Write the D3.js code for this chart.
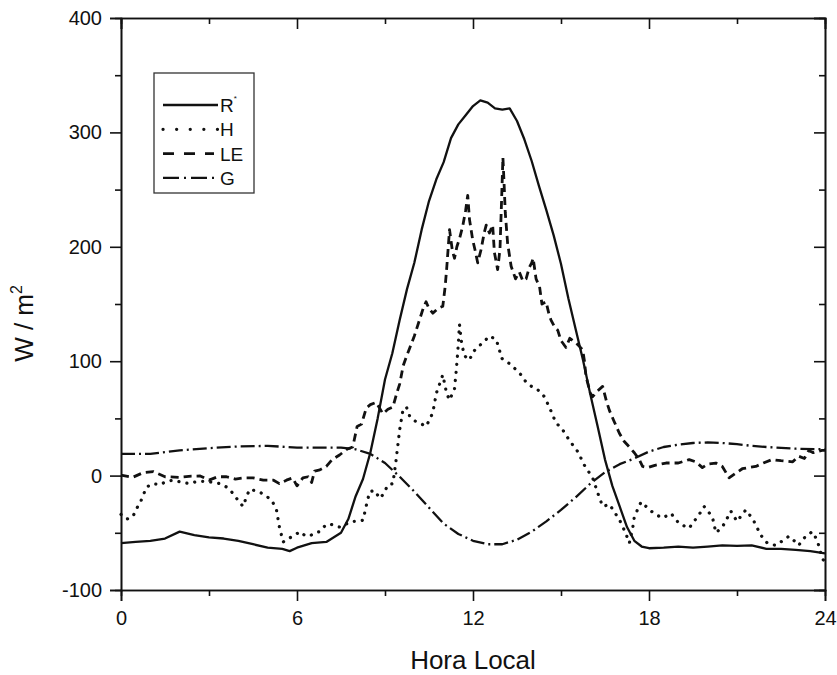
<!DOCTYPE html>
<html>
<head>
<meta charset="utf-8">
<script src="https://cdn.jsdelivr.net/npm/d3@7"></script>
<style>
  body { margin: 0; background: #fff; }
  text { font-family: Arial, "Liberation Sans", sans-serif; fill: #111; }
</style>
</head>
<body>
<script>
// hourly fluxes, W/m2
const rnHour = [0, 0.5, 1, 1.5, 2, 2.5, 3, 3.5, 4, 4.5, 5, 5.5, 5.75, 6, 6.5, 7, 7.5, 7.75, 8, 8.25, 8.5, 8.75, 9, 9.25, 9.5, 9.75, 10, 10.25, 10.5, 10.75, 11, 11.25, 11.5, 11.75, 12, 12.25, 12.5, 12.75, 13, 13.25, 13.5, 13.75, 14, 14.25, 14.5, 14.75, 15, 15.25, 15.5, 15.75, 16, 16.25, 16.5, 16.75, 17, 17.25, 17.5, 17.75, 18, 18.5, 19, 19.5, 20, 20.5, 21, 21.5, 22, 22.5, 23, 23.5, 24]
const rnVal = [-59, -58, -57, -55, -49, -52, -54, -55, -57, -60, -63, -64, -66, -63, -59, -58, -50, -38, -18, -3, 20, 50, 84, 107, 136, 163, 186, 215, 240, 259, 274, 295, 307, 315, 323, 328, 326, 321, 320, 321, 310, 294, 275, 253, 232, 210, 185, 155, 128, 101, 71, 43, 14, -9, -27, -45, -57, -62, -63.5, -63, -62, -63, -62, -61, -61.5, -61, -64, -64, -65, -66, -68]

const hHour = [0, 0.2, 0.4, 0.55, 0.65, 0.87, 1.1, 1.33, 1.55, 1.78, 2.1, 2.35, 2.6, 2.92, 3.15, 3.37, 3.6, 3.8, 4, 4.16, 4.3, 4.39, 4.7, 4.96, 5.15, 5.3, 5.4, 5.53, 5.7, 5.87, 6.1, 6.25, 6.43, 6.6, 6.77, 6.95, 7.1, 7.3, 7.46, 7.7, 7.9, 8.1, 8.25, 8.4, 8.48, 8.65, 8.82, 8.95, 9.1, 9.27, 9.38, 9.5, 9.61, 9.73, 9.84, 10, 10.18, 10.4, 10.5, 10.63, 10.75, 10.86, 10.97, 11.1, 11.2, 11.37, 11.43, 11.48, 11.54, 11.6, 11.7, 11.88, 12, 12.15, 12.33, 12.56, 12.79, 12.9, 12.96, 13.1, 13.24, 13.45, 13.64, 13.8, 13.92, 14.15, 14.3, 14.43, 14.6, 14.83, 15, 15.11, 15.28, 15.57, 15.8, 16.08, 16.25, 16.42, 16.55, 16.65, 16.85, 17, 17.2, 17.33, 17.45, 17.5, 17.73, 17.9, 18.07, 18.3, 18.47, 18.75, 19.03, 19.2, 19.37, 19.5, 19.66, 19.88, 20, 20.16, 20.28, 20.5, 20.65, 20.79, 21, 21.15, 21.3, 21.45, 21.58, 21.81, 22.03, 22.32, 22.55, 22.77, 22.95, 23.1, 23.34, 23.57, 23.7, 23.8, 23.9, 24]
const hVal = [-34, -38, -36, -28, -24, -10, -7, -8, -5, -4, -6, -7, -5, -5, -6, -7, -10, -15, -22, -27, -17, -12, -14, -18, -22, -30, -45, -58, -55, -53, -49, -52, -53, -50, -49, -44, -42, -44, -45, -42, -40, -40, -39, -22, -14, -13, -20, -16, -8, -7, 14, 40, 57, 60, 52, 48, 46, 43, 48, 55, 72, 80, 88, 72, 66, 76, 92, 108, 132, 118, 105, 101, 108, 112, 116, 122, 119, 110, 103, 100, 98, 93, 88, 82, 79, 76, 73, 69, 60, 46, 42, 38, 31, 21, 9, -2, -15, -27, -26, -25, -33, -39, -50, -59, -45, -36, -23, -27, -31, -35, -37, -33, -42, -44, -46, -41, -36, -27, -31, -36, -50, -45, -38, -31, -40, -35, -30, -35, -40, -52, -59, -61, -57, -53, -57, -61, -53, -49, -55, -62, -72, -76]

const leHour = [0, 0.4, 0.75, 1.1, 1.5, 2, 2.4, 2.7, 3, 3.3, 3.6, 3.9, 4.2, 4.5, 4.85, 5.2, 5.4, 5.64, 5.85, 6, 6.2, 6.38, 6.5, 6.6, 6.78, 7, 7.2, 7.45, 7.7, 7.9, 8.05, 8.2, 8.36, 8.5, 8.7, 8.93, 9.1, 9.27, 9.4, 9.5, 9.62, 9.73, 9.85, 10, 10.1, 10.2, 10.3, 10.4, 10.5, 10.63, 10.8, 10.97, 11.05, 11.1, 11.2, 11.3, 11.37, 11.45, 11.55, 11.65, 11.75, 11.82, 11.88, 11.99, 12.08, 12.16, 12.28, 12.38, 12.45, 12.56, 12.67, 12.73, 12.84, 12.92, 12.98, 13.02, 13.06, 13.1, 13.18, 13.3, 13.45, 13.58, 13.7, 13.81, 13.92, 14, 14.05, 14.15, 14.27, 14.35, 14.49, 14.6, 14.66, 14.78, 14.89, 15, 15.17, 15.3, 15.4, 15.55, 15.74, 15.8, 15.85, 16, 16.08, 16.25, 16.42, 16.55, 16.65, 16.8, 16.99, 17.15, 17.33, 17.5, 17.67, 17.78, 17.95, 18.2, 18.58, 19, 19.37, 19.6, 19.82, 20, 20.28, 20.5, 20.73, 20.95, 21.18, 21.4, 21.64, 21.9, 22.2, 22.5, 22.9, 23.1, 23.3, 23.45, 23.6, 23.9, 24]
const leVal = [0.5, -1.5, 2.5, 3.5, -1, -1.5, -0.5, -0.3, -4, -1, -1, -3, -2, -2, -4, -4, -7, -4, -2, -9, -2, -1, -6, 4, 5, 8, 14, 18, 23, 25, 43, 45, 59, 62, 64, 54, 58, 60, 72, 80, 96, 104, 112, 122, 130, 138, 146, 152, 146, 142, 146, 148, 165, 180, 215, 196, 190, 200, 208, 218, 232, 245, 224, 206, 196, 186, 198, 212, 219, 212, 219, 195, 180, 198, 245, 278, 255, 230, 203, 183, 172, 178, 170, 172, 182, 186, 190, 172, 165, 150, 152, 140, 136, 130, 127, 118, 112, 120, 118, 115, 110, 100, 87, 72, 69, 74, 78, 65, 57, 48, 37, 30, 25, 20, 14, 8, 7, 9, 11, 11, 14, 12, 7, 10, 11, 8, -2, 2, 6, 7, 8, 11, 14, 13, 12, 17, 15, 22, 20, 22, 22]

const gHour = [0, 1, 2, 3, 4, 5, 6, 7, 7.5, 8, 8.5, 9, 9.5, 10, 10.5, 11, 11.5, 12, 12.5, 13, 13.5, 14, 14.5, 15, 15.5, 16, 16.5, 17, 17.5, 18, 18.5, 19, 19.5, 20, 20.5, 21, 21.5, 22, 23, 24]
const gVal = [19, 19, 22, 24, 25.5, 26, 24.5, 24.5, 24.5, 23, 19, 11, -1, -14, -28, -42, -51, -57, -60, -60, -56, -49, -40, -30, -19, -7, 3, 10, 15, 21, 25, 27, 28.5, 29, 28.5, 27.5, 26, 25, 23.5, 23]

const xMajor = [0, 6, 12, 18, 24]
const xMinor = [3, 9, 15, 21]
const yMajor = [-100, 0, 100, 200, 300, 400]
const yMinor = [-50, 50, 150, 250, 350]

const series = [
  { name: 'R', sup: '*', hour: rnHour, val: rnVal, dash: null, width: 2.3 },
  { name: 'H', sup: '', hour: hHour, val: hVal, dash: '0.1,8', width: 3.2 },
  { name: 'LE', sup: '', hour: leHour, val: leVal, dash: '8,5', width: 2.8 },
  { name: 'G', sup: '', hour: gHour, val: gVal, dash: '14,4,2,4', width: 2.3 }
]

const width = 837, height = 675
const margin = { top: 18, right: 12, bottom: 85, left: 121 }

const svg = d3.select('body')
    .append('svg')
    .attr('width', width)
    .attr('height', height)

const xScale = d3.scaleLinear()
    .domain([0, 24])
    .range([margin.left, width - margin.right])

const yScale = d3.scaleLinear()
    .domain([-100, 400])
    .range([height - margin.bottom, margin.top])

const plain = (d) => String(d)

function styleAxis(g) {
    g.select('.domain').attr('stroke', '#111').attr('stroke-width', 1.6)
    g.selectAll('.tick line').attr('stroke', '#111').attr('stroke-width', 1.6)
    g.selectAll('text').style('font-size', '20px').attr('fill', '#111')
}

const yBottom = yScale(-100), yTop = yScale(400)
const xLeft = xScale(0), xRight = xScale(24)

// bottom, outward ticks
svg.append('g').attr('transform', `translate(0, ${yBottom})`)
    .call(d3.axisBottom(xScale).tickValues(xMajor).tickSize(11).tickPadding(10).tickFormat(plain))
    .call(styleAxis)
svg.append('g').attr('transform', `translate(0, ${yBottom})`)
    .call(d3.axisBottom(xScale).tickValues(xMinor).tickSize(6).tickFormat(''))
    .call(styleAxis)

// top, inward ticks
svg.append('g').attr('transform', `translate(0, ${yTop})`)
    .call(d3.axisTop(xScale).tickValues(xMajor).tickSize(-11).tickFormat(''))
    .call(styleAxis)
svg.append('g').attr('transform', `translate(0, ${yTop})`)
    .call(d3.axisTop(xScale).tickValues(xMinor).tickSize(-6).tickFormat(''))
    .call(styleAxis)

// left, outward ticks
svg.append('g').attr('transform', `translate(${xLeft}, 0)`)
    .call(d3.axisLeft(yScale).tickValues(yMajor).tickSize(11).tickPadding(8).tickFormat(plain))
    .call(styleAxis)
svg.append('g').attr('transform', `translate(${xLeft}, 0)`)
    .call(d3.axisLeft(yScale).tickValues(yMinor).tickSize(6).tickFormat(''))
    .call(styleAxis)

// right, inward ticks
svg.append('g').attr('transform', `translate(${xRight}, 0)`)
    .call(d3.axisRight(yScale).tickValues(yMajor).tickSize(-11).tickFormat(''))
    .call(styleAxis)
svg.append('g').attr('transform', `translate(${xRight}, 0)`)
    .call(d3.axisRight(yScale).tickValues(yMinor).tickSize(-6).tickFormat(''))
    .call(styleAxis)

const line = d3.line()
    .x((d) => xScale(d[0]))
    .y((d) => yScale(d[1]))

series.forEach((s) => {
    const pts = s.hour.map((h, i) => [h, s.val[i]])
    svg.append('path')
        .datum(pts)
        .attr('d', line)
        .attr('fill', 'none')
        .attr('stroke', '#111')
        .attr('stroke-width', s.width)
        .attr('stroke-linejoin', 'round')
        .attr('stroke-linecap', s.name === 'H' ? 'round' : 'butt')
        .attr('stroke-dasharray', s.dash)
})

// legend
const legend = svg.append('g').attr('transform', 'translate(154, 73)')
legend.append('rect')
    .attr('width', 100).attr('height', 120)
    .attr('fill', '#fff').attr('stroke', '#333').attr('stroke-width', 1.3)

series.forEach((s, i) => {
    const y = 32 + i * 24.3
    legend.append('line')
        .attr('x1', 9).attr('x2', s.name === 'LE' ? 60 : 64)
        .attr('y1', y).attr('y2', y)
        .attr('stroke', '#111')
        .attr('stroke-width', s.width)
        .attr('stroke-linecap', s.name === 'H' ? 'round' : 'butt')
        .attr('stroke-dasharray', s.name === 'H' ? '0.1,13.5' : s.name === 'LE' ? '11,10' : s.name === 'G' ? '16,5,2,5' : null)
    const t = legend.append('text')
        .attr('x', 66).attr('y', y + 7)
        .style('font-size', '19px')
        .text(s.name)
    if (s.sup) {
        t.append('tspan').attr('dy', -11).style('font-size', '8px').text(s.sup)
    }
})

// axis titles
svg.append('text')
    .attr('x', xScale(12))
    .attr('y', 669)
    .attr('text-anchor', 'middle')
    .style('font-size', '26px')
    .text('Hora Local')

const yTitle = svg.append('text')
    .attr('transform', `translate(33, ${yScale(133)}) rotate(-90)`)
    .attr('text-anchor', 'middle')
    .style('font-size', '26px')
    .text('W / m')
yTitle.append('tspan').attr('dy', -11).style('font-size', '16px').text('2')
</script>
</body>
</html>
